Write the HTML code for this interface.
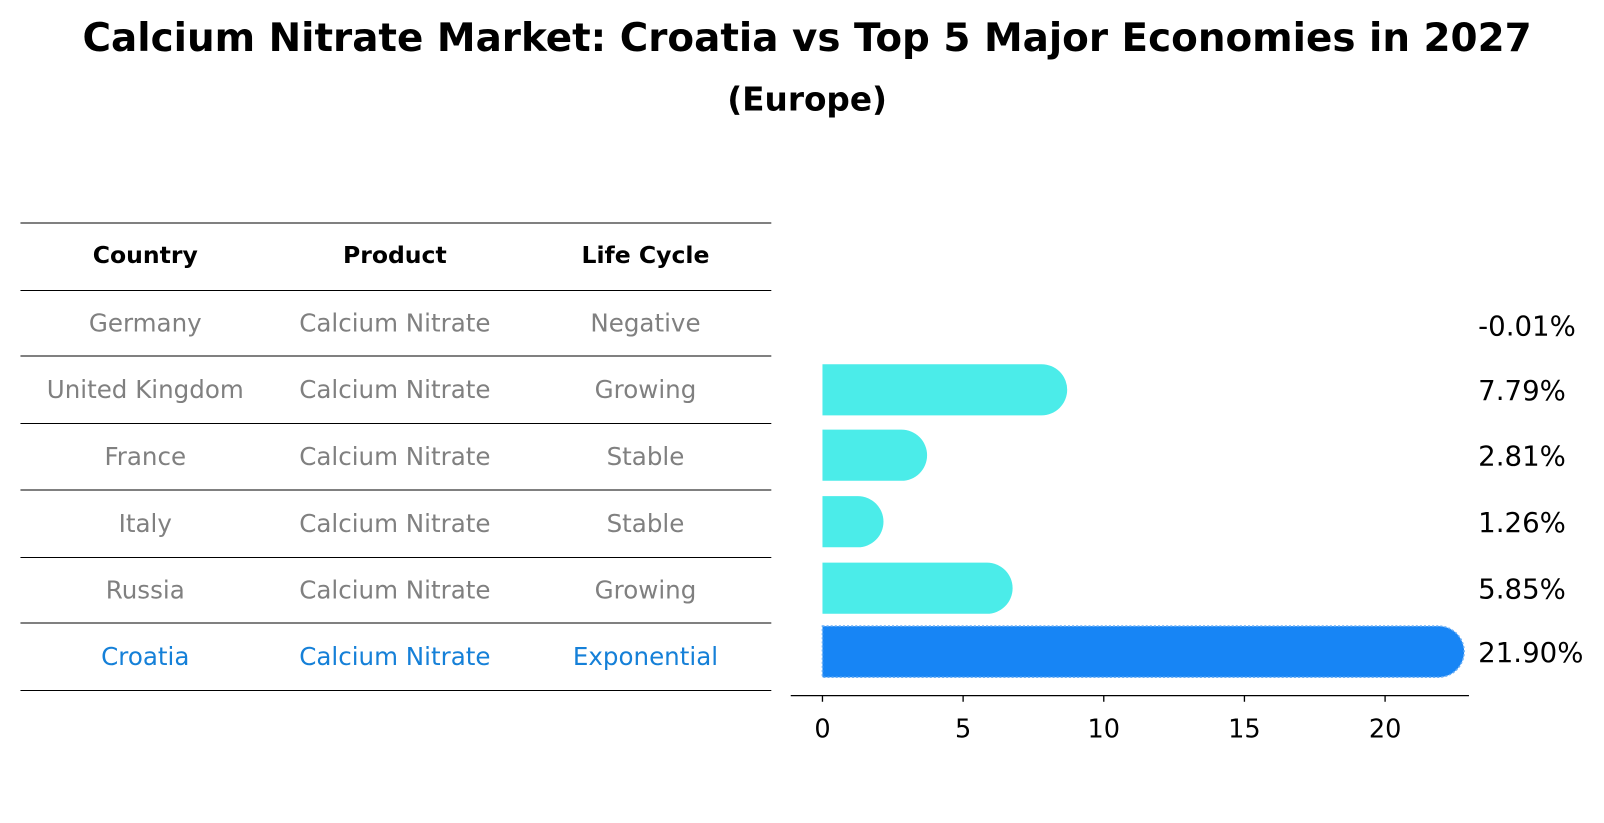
<!DOCTYPE html>
<html><head><meta charset="utf-8"><style>
html,body{margin:0;padding:0;background:#fff;}
svg{display:block;font-family:"DejaVu Sans","Liberation Sans",sans-serif;}
</style></head><body>
<svg id="c" width="1604" height="823" viewBox="0 0 1568 804.5">
<text x="789" y="50" text-anchor="middle" font-size="38" font-weight="bold">Calcium Nitrate Market: Croatia vs Top 5 Major Economies in 2027</text>
<text x="789" y="108" text-anchor="middle" font-size="32" font-weight="bold">(Europe)</text>
<g id="table"></g>
<g id="bars"></g>
</svg>
<script>
const countries=["Germany","United Kingdom","France","Italy","Russia","Croatia"];
const products=["Calcium Nitrate","Calcium Nitrate","Calcium Nitrate","Calcium Nitrate","Calcium Nitrate","Calcium Nitrate"];
const lifeCycles=["Negative","Growing","Stable","Stable","Growing","Exponential"];
const growth=[-0.01,7.79,2.81,1.26,5.85,21.90];
const xTicks=[0,5,10,15,20];

const NS="http://www.w3.org/2000/svg";
function mk(tag,attrs,parent,txt){const e=document.createElementNS(NS,tag);for(const k in attrs)e.setAttribute(k,attrs[k]);if(txt!==undefined)e.textContent=txt;parent.appendChild(e);return e;}
const table=document.getElementById('table'),bars=document.getElementById('bars');
const lineYs=[218,284,348,414,479,545,609,675];
const colX=[142,386,631];
for(const y of lineYs){const l=mk('line',{x1:20,x2:754,y1:y,y2:y,stroke:'#000','stroke-width':1},table);

}
const heads=["Country","Product","Life Cycle"];
heads.forEach((h,i)=>{const t=mk('text',{x:colX[i],y:257,'text-anchor':'middle','font-size':23,'font-weight':'bold'},table,h);

});
countries.forEach((c,r)=>{const y=(lineYs[r+1]+lineYs[r+2])/2+8;const col=c==="Croatia"?'#1580d8':'#808080';
[c,products[r],lifeCycles[r]].forEach((v,i)=>{const t=mk('text',{x:colX[i],y:y,'text-anchor':'middle','font-size':24,fill:col},table,v);

});});
const x0=804,ppu=27.5;const sx=v=>x0+v*ppu;
const rowC=[318,381,445,510,575,637];const bh=50,r=25;
growth.forEach((g,i)=>{const y=rowC[i];const isC=countries[i]==="Croatia";
const col=isC?'#1785f5':'#4bece9';
if(g>0.05){const xe=sx(g);
const p=mk('path',{d:`M${x0},${y-bh/2} L${xe},${y-bh/2} A${r},${r} 0 0 1 ${xe},${y+bh/2} L${x0},${y+bh/2} Z`,fill:col},bars);
if(isC){p.setAttribute('stroke','#6aaef5');p.setAttribute('stroke-dasharray','2,2');p.setAttribute('stroke-width','1.5');}

}
const t=mk('text',{x:1445,y:y+10,'font-size':27},bars,g.toFixed(2)+'%');

});
const ax=mk('line',{x1:773,x2:1436,y1:680,y2:680,stroke:'#000','stroke-width':1.3},bars);


xTicks.forEach(v=>{const tk=mk('line',{x1:sx(v),x2:sx(v),y1:680,y2:686,stroke:'#000','stroke-width':1.3},bars);


const t=mk('text',{x:sx(v),y:721,'text-anchor':'middle','font-size':25},bars,String(v));

});
</script>
</body></html>
